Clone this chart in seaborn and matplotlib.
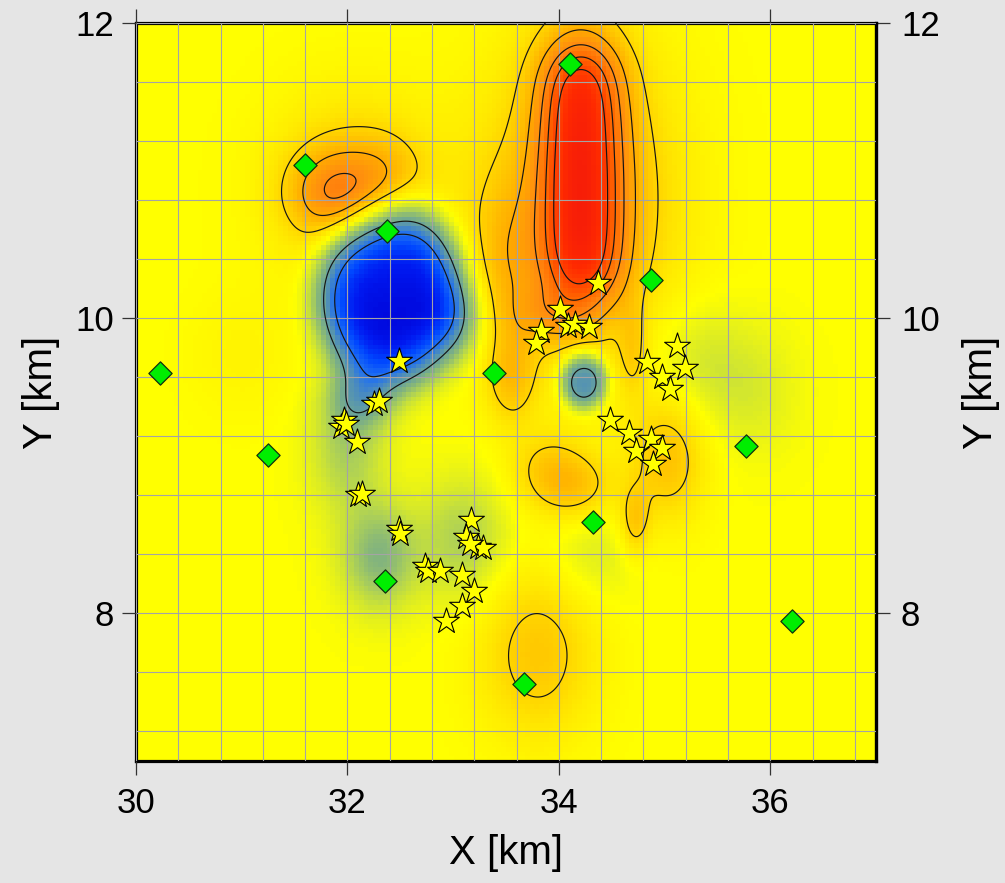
import numpy as np
import matplotlib
matplotlib.use("Agg")
import matplotlib.pyplot as plt
from matplotlib.colors import LinearSegmentedColormap, Normalize
from matplotlib.ticker import MultipleLocator
import seaborn as sns

# ---- anomaly sources that build the gridded field ----
# centre (km), half-widths (km), amplitude, shape exponent (1 = gaussian)
src_x   = [34.21, 34.21, 34.21, 34.21, 34.21, 34.20, 34.20, 33.50, 33.98, 33.55, 34.70,
           31.90, 32.05, 32.35, 32.41, 32.12, 33.10, 34.235, 32.30, 32.00,
           33.10, 34.30, 35.30, 35.85, 33.80, 33.90, 34.18, 35.03, 34.72, 31.00]
src_y   = [10.34, 10.66, 10.98, 11.30, 11.62, 10.80, 12.00, 10.35, 10.02, 9.60, 9.78,
           10.85, 10.90, 10.95, 10.17, 9.45, 9.98, 9.575, 8.38, 9.10,
           8.50, 8.40, 9.70, 9.50, 7.73, 8.97, 8.85, 9.05, 8.62, 9.75]
src_sx  = [0.26, 0.26, 0.26, 0.26, 0.26, 0.65, 0.30, 0.22, 0.28, 0.17, 0.10,
           0.30, 0.55, 0.25, 0.487, 0.22, 0.20, 0.16, 0.25, 0.25,
           0.30, 0.30, 0.35, 0.30, 0.39, 0.25, 0.25, 0.25, 0.10, 0.35]
src_sy  = [0.20, 0.20, 0.20, 0.20, 0.20, 0.75, 0.25, 0.40, 0.14, 0.22, 0.22,
           0.20, 0.45, 0.20, 0.44, 0.15, 0.20, 0.14, 0.25, 0.30,
           0.30, 0.25, 0.30, 0.30, 0.41, 0.18, 0.16, 0.30, 0.16, 0.30]
src_amp = [3.5, 3.5, 3.5, 3.5, 3.5, 1.7, 0.6, 1.0, 1.4, 1.25, 0.9,
           2.2, 1.1, 0.8, -4.64, -1.5, -1.0, -2.75, -1.5, -1.0,
           -1.0, -0.5, -0.6, -0.4, 1.3, 1.05, 1.1, 1.4, 1.2, 0.3]
src_p   = [1, 1, 1, 1, 1, 1, 1, 1, 1, 1, 1,
           1, 1, 1, 2, 1, 1, 1.6, 1, 1,
           1, 1, 1, 1, 1, 1, 1, 1, 1, 1]

# ---- stations (diamonds) ----
station_x = [31.60, 34.11, 32.37, 34.87, 30.23, 33.39, 31.25, 35.77, 34.32, 32.36, 36.21, 33.67]
station_y = [11.04, 11.72, 10.59, 10.26, 9.63, 9.63, 9.07, 9.135, 8.62, 8.22, 7.946, 7.52]

# ---- event epicentres (stars) ----
event_x = [32.49, 32.25, 32.30, 31.94, 31.97, 31.99, 32.09, 32.10, 32.14, 32.49,
           32.50, 32.73, 32.76, 32.88, 33.08, 33.17, 33.12, 33.24, 33.28, 33.16,
           33.20, 33.08, 32.93, 34.37, 34.01, 33.83, 33.78, 34.09, 34.15, 34.29,
           34.83, 35.12, 35.19, 34.98, 35.05, 34.48, 34.66, 34.73, 34.87, 34.98,
           34.89]
event_y = [9.71, 9.42, 9.44, 9.26, 9.31, 9.28, 9.16, 8.80, 8.81, 8.57,
           8.54, 8.32, 8.29, 8.29, 8.26, 8.63, 8.52, 8.45, 8.44, 8.47,
           8.15, 8.05, 7.95, 10.24, 10.06, 9.91, 9.83, 9.95, 9.96, 9.94,
           9.70, 9.81, 9.66, 9.60, 9.52, 9.31, 9.22, 9.10, 9.18, 9.12,
           9.01]

# ---- contour levels and colour scale ----
levels_neg = [-3.0, -2.0]
levels_pos = [1.0, 2.0, 3.0, 4.0, 5.0]
scale_vals = [-4.7, -4.2, -3.6, -3.0, -2.5, -2.0, -1.5, -1.0, -0.5,
              0.0, 0.6, 1.2, 2.0, 3.0, 4.0, 5.0, 6.0, 7.3]
scale_cols = ["#0000d4", "#0018f0", "#0048ff", "#2070f0", "#4c8cbc", "#68a29c",
              "#86b67a", "#acd058", "#d8ea28", "#ffff00", "#ffe800", "#ffcc00",
              "#ffaa00", "#ff8a10", "#ff6800", "#ff4400", "#ff2a00", "#f61c08"]

X_RANGE = (30.0, 37.0)
Y_RANGE = (7.0, 12.0)


def field(gx, gy):
    z = np.zeros_like(gx)
    for cx, cy, sx, sy, a, p in zip(src_x, src_y, src_sx, src_sy, src_amp, src_p):
        q = ((gx - cx) / sx) ** 2 + ((gy - cy) / sy) ** 2
        z += a * np.exp(-(q / 2.0) ** p)
    return z


# coarse grid for the coloured cells, fine grid for smooth contours
nx, ny = 156, 156
xc = np.linspace(*X_RANGE, nx + 1)
yc = np.linspace(*Y_RANGE, ny + 1)
xm, ym = np.meshgrid(0.5 * (xc[:-1] + xc[1:]), 0.5 * (yc[:-1] + yc[1:]))
z_cells = field(xm, ym)

xf, yf = np.meshgrid(np.linspace(*X_RANGE, 500), np.linspace(*Y_RANGE, 500))
z_fine = field(xf, yf)

vmin, vmax = scale_vals[0], scale_vals[-1]
pos = [(v - vmin) / (vmax - vmin) for v in scale_vals]
cmap = LinearSegmentedColormap.from_list("anomaly", list(zip(pos, scale_cols)))

sns.set_theme(style="white")
plt.rcParams["font.family"] = ["Liberation Sans", "DejaVu Sans"]
plt.rcParams.update({"text.color": "black", "axes.labelcolor": "black",
                     "xtick.color": "black", "ytick.color": "black"})

fig = plt.figure(figsize=(10.05, 8.83), dpi=100, facecolor="#e5e5e5")
ax = fig.add_axes([0.1353, 0.1382, 0.7363, 0.8358])

ax.pcolormesh(xc, yc, z_cells, cmap=cmap, norm=Normalize(vmin, vmax),
              shading="flat", zorder=0, rasterized=True)
ax.contour(xf, yf, z_fine, levels=levels_neg + levels_pos, colors="#151515",
           linewidths=0.85, linestyles="solid", zorder=3)

sns.scatterplot(x=station_x, y=station_y, marker="D", s=140, color="#00ee00",
                edgecolor="#103010", linewidth=0.9, ax=ax, zorder=5, legend=False)
sns.scatterplot(x=event_x, y=event_y, marker="*", s=380, color="#ffff00",
                edgecolor="black", linewidth=0.8, ax=ax, zorder=6, legend=False)

ax.set_xlim(*X_RANGE)
ax.set_ylim(*Y_RANGE)
ax.set_xticks([30, 32, 34, 36])
ax.set_yticks([8, 10, 12])
ax.xaxis.set_minor_locator(MultipleLocator(0.4))
ax.yaxis.set_minor_locator(MultipleLocator(0.4))
ax.set_axisbelow(False)
ax.grid(which="both", color="#a4a4a4", linewidth=0.8, zorder=2)

ax.tick_params(which="major", direction="out", length=10, width=0.9, color="#333333",
               labelcolor="black", labelsize=25, top=True, left=True, bottom=True)
ax.tick_params(axis="x", which="major", pad=9)
ax.tick_params(axis="y", which="major", pad=6)
ax.tick_params(which="minor", length=0)
for s in ax.spines.values():
    s.set_linewidth(2.3)
    s.set_color("black")

ax.set_xlabel("X [km]", fontsize=29, labelpad=10)
ax.set_ylabel("Y [km]", fontsize=29, labelpad=11)

sec = ax.secondary_yaxis("right")
sec.set_yticks([8, 10, 12])
sec.tick_params(direction="out", length=10, width=0.9, color="#333333",
                labelcolor="black", labelsize=25, pad=8)
sec.spines["right"].set_linewidth(2.3)
sec.set_ylabel("Y [km]", fontsize=29, rotation=90, labelpad=16)

fig.savefig("out.png", dpi=100, facecolor=fig.get_facecolor())
